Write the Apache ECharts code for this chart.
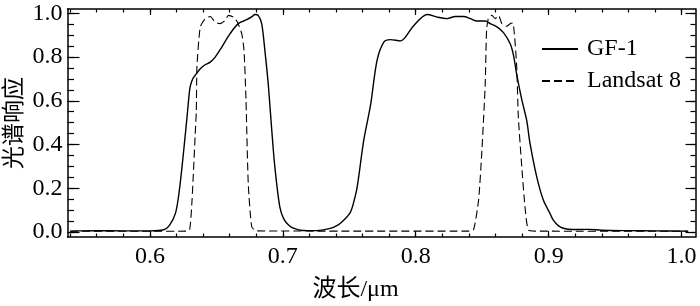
<!DOCTYPE html>
<html>
<head>
<meta charset="utf-8">
<script src="https://cdn.jsdelivr.net/npm/echarts@6/dist/echarts.min.js"></script>
<style>html,body{margin:0;padding:0;background:#fff}#c{width:700px;height:306px}</style>
</head>
<body>
<div id="c"></div>
<script>
// ---- data ----
const gfWave = [0.540,0.560,0.580,0.600,0.6104,0.6147,0.6192,0.6217,0.6242,0.6267,0.628,0.6297,0.6305,0.6322,0.6341,0.6379,0.6415,0.6454,0.6491,0.6541,0.6603,0.6665,0.6728,0.6768,0.679,0.6815,0.6841,0.6865,0.689,0.6915,0.694,0.6977,0.7007,0.7047,0.709,0.715,0.725,0.735,0.741,0.746,0.7508,0.7535,0.756,0.7609,0.766,0.7709,0.776,0.781,0.7886,0.7923,0.7986,0.8087,0.8161,0.8236,0.8298,0.8361,0.8411,0.8461,0.8523,0.8561,0.8611,0.866,0.871,0.8735,0.876,0.8798,0.8835,0.886,0.891,0.896,0.901,0.9034,0.907,0.911,0.918,0.930,0.940,0.960,0.980,1.005];
const gfResp = [0.004,0.006,0.005,0.005,0.010,0.030,0.085,0.170,0.300,0.450,0.530,0.640,0.670,0.700,0.717,0.747,0.765,0.777,0.800,0.846,0.907,0.953,0.971,0.985,0.995,0.991,0.953,0.831,0.679,0.480,0.298,0.116,0.060,0.030,0.015,0.007,0.006,0.015,0.030,0.055,0.090,0.140,0.207,0.420,0.580,0.785,0.869,0.880,0.874,0.892,0.945,0.995,0.983,0.976,0.986,0.986,0.976,0.965,0.965,0.953,0.938,0.912,0.862,0.810,0.720,0.605,0.510,0.405,0.253,0.146,0.085,0.055,0.030,0.017,0.011,0.012,0.008,0.006,0.005,0.004];

const lsWave = [0.540,0.600,0.627,0.6299,0.6317,0.6341,0.6349,0.6354,0.6379,0.6416,0.6454,0.6491,0.6528,0.6566,0.6591,0.6628,0.6658,0.6691,0.6708,0.6723,0.674,0.6766,0.680,0.750,0.840,0.8435,0.8473,0.8498,0.8523,0.8533,0.8546,0.8573,0.8598,0.8623,0.8648,0.8685,0.871,0.873,0.8742,0.876,0.8772,0.8798,0.8822,0.8847,0.890,1.005];
const lsResp = [0.003,0.003,0.004,0.010,0.146,0.450,0.550,0.755,0.938,0.976,0.986,0.960,0.953,0.968,0.991,0.983,0.960,0.907,0.831,0.603,0.222,0.024,0.005,0.004,0.004,0.010,0.146,0.374,0.679,0.922,0.976,0.991,0.976,0.991,0.953,0.941,0.953,0.956,0.907,0.755,0.527,0.298,0.116,0.009,0.004,0.003];

const seriesNames = ['GF-1', 'Landsat 8'];
const xMajorTicks = [0.6, 0.7, 0.8, 0.9, 1.0];
const xMinorTicks = [0.54,0.56,0.58,0.60,0.62,0.64,0.66,0.68,0.70,0.72,0.74,0.76,0.78,0.80,0.82,0.84,0.86,0.88,0.90,0.92,0.94,0.96,0.98,1.00];
const yMajorTicks = [0.0, 0.2, 0.4, 0.6, 0.8, 1.0];
const yMinorTicks = [0,0.05,0.10,0.15,0.20,0.25,0.30,0.35,0.40,0.45,0.50,0.55,0.60,0.65,0.70,0.75,0.80,0.85,0.90,0.95,1.00];
const xTitle = '波长/μm';
const yTitle = '光谱响应';

// ---- chart ----
const X_MIN = 0.538, X_MAX = 1.0105, Y_MIN = -0.023, Y_MAX = 1.02;
const FONT = '"Liberation Serif", "Times New Roman", "Noto Sans CJK SC", serif';
const axisLineStyle = { color: '#000', width: 1.5 };

function xAxisDef(position, ticks, len, showLine, withLabels) {
  return {
    type: 'value', min: X_MIN, max: X_MAX, position: position,
    axisLine: { show: showLine, onZero: false, lineStyle: axisLineStyle },
    axisTick: { show: true, inside: true, length: len, customValues: ticks, lineStyle: { color: '#000', width: 1.2 } },
    axisLabel: withLabels ? { show: true, customValues: ticks, margin: 8, color: '#000', fontSize: 24, fontFamily: FONT,
      formatter: v => v.toFixed(1) } : { show: false },
    splitLine: { show: false },
    minorTick: { show: false }
  };
}
function yAxisDef(position, ticks, len, showLine, withLabels) {
  return {
    type: 'value', min: Y_MIN, max: Y_MAX, position: position,
    axisLine: { show: showLine, onZero: false, lineStyle: axisLineStyle },
    axisTick: { show: true, inside: true, length: len, customValues: ticks, lineStyle: { color: '#000', width: 1.2 } },
    axisLabel: withLabels ? { show: true, customValues: ticks, margin: 5, color: '#000', fontSize: 24, fontFamily: FONT,
      formatter: v => v.toFixed(1) } : { show: false },
    splitLine: { show: false },
    minorTick: { show: false }
  };
}

const xMain = xAxisDef('bottom', xMajorTicks, 6, true, true);
xMain.name = xTitle;
xMain.nameLocation = 'middle';
xMain.nameGap = 41;
xMain.nameMoveOverlap = false;
xMain.nameTextStyle = { color: '#000', fontSize: 24, fontFamily: FONT, padding: [0, 52, 0, 0] };

const yMain = yAxisDef('left', yMajorTicks, 12, true, true);
yMain.name = yTitle;
yMain.nameLocation = 'middle';
yMain.nameGap = 41;
yMain.nameMoveOverlap = false;
yMain.nameTextStyle = { color: '#000', fontSize: 23, fontFamily: FONT };

const chart = echarts.init(document.getElementById('c'), null, { renderer: 'canvas' });
chart.setOption({
  animation: false,
  backgroundColor: '#fff',
  grid: { left: 67.5, right: 4.5, top: 9, bottom: 69, containLabel: false, outerBoundsMode: 'none' },
  legend: {
    orient: 'vertical', left: 541, top: 37, padding: 0, itemWidth: 36, itemHeight: 14, itemGap: 8,
    itemStyle: { opacity: 0 },
    textStyle: { color: '#000', fontSize: 24, fontFamily: FONT, padding: [0, 0, 0, 4] },
    data: seriesNames
  },
  xAxis: [
    xMain,
    xAxisDef('top', xMajorTicks, 6, true, false),
    xAxisDef('bottom', xMinorTicks, 3.5, false, false),
    xAxisDef('top', xMinorTicks, 3.5, false, false)
  ],
  yAxis: [
    yMain,
    yAxisDef('right', yMajorTicks, 10, true, false),
    yAxisDef('left', yMinorTicks, 6.5, false, false),
    yAxisDef('right', yMinorTicks, 5, false, false)
  ],
  series: [
    {
      name: seriesNames[0], type: 'line', symbol: 'none', smooth: 0.3,
      xAxisIndex: 0, yAxisIndex: 0,
      lineStyle: { color: '#000', width: 1.4, type: 'solid' },
      itemStyle: { color: '#000' },
      data: gfWave.map((w, i) => [w, gfResp[i]])
    },
    {
      name: seriesNames[1], type: 'line', symbol: 'none', smooth: 0.2,
      xAxisIndex: 0, yAxisIndex: 0,
      lineStyle: { color: '#000', width: 1.1, type: [8, 4] },
      itemStyle: { color: '#000' },
      data: lsWave.map((w, i) => [w, lsResp[i]])
    }
  ]
});
</script>
</body>
</html>
